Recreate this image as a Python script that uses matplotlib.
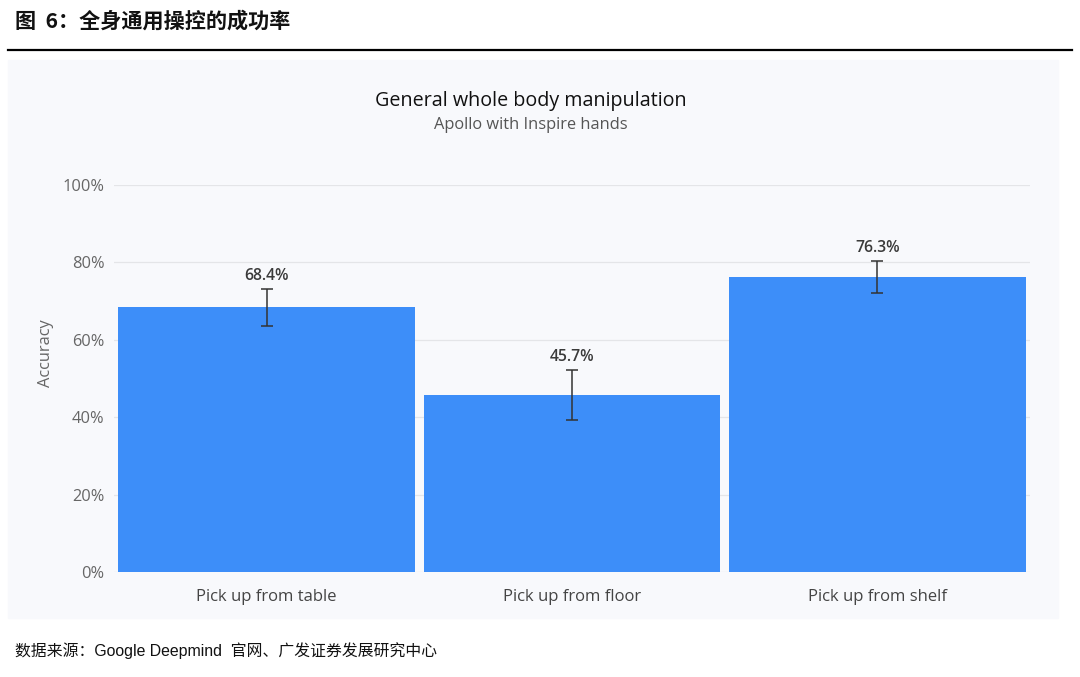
import matplotlib
matplotlib.use('Agg')
import matplotlib.pyplot as plt
from matplotlib.patches import Rectangle

# data
tasks = ['Pick up from table', 'Pick up from floor', 'Pick up from shelf']
accuracy = [68.4, 45.7, 76.3]
err_low = [4.8, 6.3, 4.2]
err_high = [4.7, 6.6, 4.1]
yticks = [0, 20, 40, 60, 80, 100]

plt.rcParams['font.family'] = ['Open Sans', 'DejaVu Sans']

fig = plt.figure(figsize=(10.8, 6.77), dpi=100)
W, H = 1080, 677

# header and footer
fig.text(15/W, 1 - 21/H, '图  6：全身通用操控的成功率', fontsize=15.2, fontweight='bold',
         family=['Noto Sans CJK SC', 'DejaVu Sans'], va='center', ha='left', color='#111111')
fig.add_artist(plt.Line2D([8/W, 1072/W], [1 - 50/H, 1 - 50/H], color='black', lw=1.6))
fig.add_artist(Rectangle((8/W, 1 - 618/H), 1050/W, 558/H, color='#f8f9fc', zorder=0))
fig.text(15/W, 1 - 651/H, '数据来源：Google Deepmind  官网、广发证券发展研究中心', fontsize=11.4,
         family=['Liberation Sans', 'Noto Sans CJK SC'], va='center', ha='left', color='#111111')

# chart titles
fig.text(531/W, 1 - 101/H, 'General whole body manipulation', fontsize=14.2, ha='center',
         va='center', color='#111111')
fig.text(531/W, 1 - 125/H, 'Apollo with Inspire hands', fontsize=11.8, ha='center',
         va='center', color='#555555')

ax = fig.add_axes([114/W, 1 - 572/H, 916/W, 387/H])
ax.set_facecolor('none')
x = range(len(tasks))
ax.bar(x, accuracy, width=0.972, color='#3d8ef9', zorder=2)
ax.errorbar(x, accuracy, yerr=[err_low, err_high], fmt='none', ecolor='#333333',
            elinewidth=1.1, capsize=4, capthick=1.1, zorder=3)
for i, v in enumerate(accuracy):
    ax.text(i, v + err_high[i] + 1.2, f'{v}%', ha='center', va='bottom', fontsize=11.3,
            fontweight='semibold', color='#3a3a3a')

ax.set_xlim(-0.5, 2.5)
ax.set_ylim(0, 100)
ax.set_yticks(yticks)
ax.set_yticklabels([f'{t}%' for t in yticks], fontsize=11.8, color='#666666')
ax.set_xticks(list(x))
ax.set_xticklabels(tasks, fontsize=12, color='#444444')
ax.tick_params(axis='both', length=0)
ax.tick_params(axis='y', pad=7)
ax.tick_params(axis='x', pad=12)
ax.grid(axis='y', color='#e4e5e8', lw=0.9, zorder=0)
for s in ax.spines.values():
    s.set_visible(False)
ax.set_ylabel('Accuracy', fontsize=11.8, color='#666666')
ax.yaxis.set_label_coords(-0.066, 0.566)

fig.savefig('out.png', dpi=100)
